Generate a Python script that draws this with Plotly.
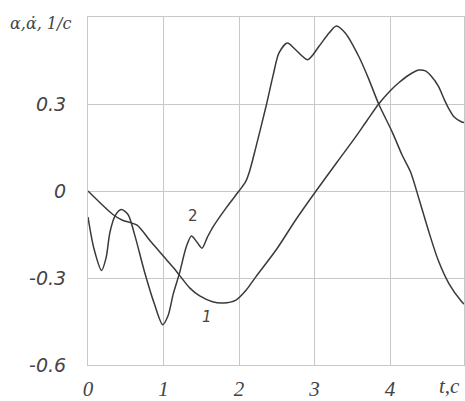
import plotly.graph_objects as go

# Curve 1
t1 = [0.00, 0.33, 0.45, 0.55, 0.65, 0.84, 1.00, 1.15, 1.21, 1.35, 1.48, 1.65, 1.79, 1.96,
      2.10, 2.22, 2.50, 2.75, 3.02, 3.30, 3.54, 3.70, 3.85, 4.00, 4.12, 4.25, 4.38, 4.47,
      4.55, 4.64, 4.72, 4.78, 4.85, 4.95, 4.98]
a1 = [0.000, -0.081, -0.100, -0.108, -0.118, -0.177, -0.225, -0.270, -0.290, -0.335, -0.362,
      -0.382, -0.386, -0.376, -0.340, -0.297, -0.200, -0.100, 0.000, 0.100, 0.185, 0.245,
      0.300, 0.345, 0.374, 0.400, 0.417, 0.414, 0.395, 0.362, 0.315, 0.283, 0.255, 0.238, 0.236]

# Curve 2
t2 = [0.00, 0.08, 0.18, 0.24, 0.29, 0.36, 0.44, 0.53, 0.62, 0.75, 0.88, 0.99, 1.06, 1.13,
      1.21, 1.30, 1.37, 1.44, 1.51, 1.58, 1.65, 1.83, 2.00, 2.09, 2.14, 2.22, 2.36, 2.45,
      2.53, 2.64, 2.75, 2.91, 3.06, 3.19, 3.29, 3.41, 3.59, 3.72, 3.85, 4.03, 4.16, 4.27,
      4.38, 4.51, 4.64, 4.78, 4.95, 4.98]
a2 = [-0.090, -0.200, -0.274, -0.230, -0.143, -0.085, -0.064, -0.081, -0.153, -0.280, -0.390,
      -0.461, -0.430, -0.354, -0.285, -0.194, -0.155, -0.175, -0.197, -0.160, -0.126, -0.058,
      0.000, 0.033, 0.068, 0.147, 0.294, 0.397, 0.476, 0.510, 0.487, 0.453, 0.499, 0.544,
      0.569, 0.544, 0.462, 0.385, 0.300, 0.203, 0.124, 0.067, -0.024, -0.137, -0.240, -0.319,
      -0.382, -0.390]

x_ticks = [0, 1, 2, 3, 4]
x_tick_text = ["0", "1", "2", "3", "4"]
y_ticks = [-0.6, -0.3, 0, 0.3]
y_tick_text = ["-0.6", "-0.3", "0", "0.3"]

LINE = "#3a3a3a"
GRID = "#c8c8c8"

fig = go.Figure()
for t, a in ((t1, a1), (t2, a2)):
    fig.add_trace(go.Scatter(x=t, y=a, mode="lines", line=dict(color=LINE, width=1.5, shape="spline", smoothing=0.8),
                             showlegend=False, hoverinfo="skip"))

fig.update_layout(
    width=465, height=401,
    margin=dict(l=88, r=0, t=17, b=32),
    paper_bgcolor="white", plot_bgcolor="white",
    xaxis=dict(range=[0, 4.98], tickvals=x_ticks, ticktext=x_tick_text, showgrid=True, gridcolor=GRID,
               gridwidth=1, zeroline=False, showline=True, linecolor=GRID, linewidth=1, mirror=True,
               ticks="", ticklabelstandoff=5,
               tickfont=dict(family="Liberation Serif", size=21, color="#444", style="italic")),
    yaxis=dict(range=[-0.6, 0.6], tickvals=y_ticks, ticktext=y_tick_text, showgrid=True, gridcolor=GRID,
               gridwidth=1, zeroline=False, showline=True, linecolor=GRID, linewidth=1, mirror=True,
               ticks="", ticklabelstandoff=17,
               tickfont=dict(family="DejaVu Sans", size=19, color="#444", style="italic")),
    annotations=[
        dict(text="α,α̇, 1/c", xref="paper", yref="paper", x=(73 - 88) / 377, y=(369 - 24) / 352,
             xanchor="right", yanchor="middle", showarrow=False,
             font=dict(family="DejaVu Serif", size=16, color="#444", style="italic")),
        dict(text="t,c", xref="paper", yref="paper", x=(450 - 88) / 377, y=(369 - 390) / 352,
             xanchor="center", yanchor="middle", showarrow=False,
             font=dict(family="Liberation Serif", size=21, color="#444", style="italic")),
        dict(text="1", x=1.58, y=-0.434, showarrow=False,
             font=dict(family="DejaVu Sans", size=15, color="#444", style="italic")),
        dict(text="2", x=1.39, y=-0.085, showarrow=False,
             font=dict(family="DejaVu Sans", size=15, color="#444")),
    ],
)

fig.write_html("out.html", config={"displayModeBar": False, "staticPlot": True},
               post_script="document.body.style.margin='0';document.body.style.padding='0';document.body.style.overflow='hidden';")
